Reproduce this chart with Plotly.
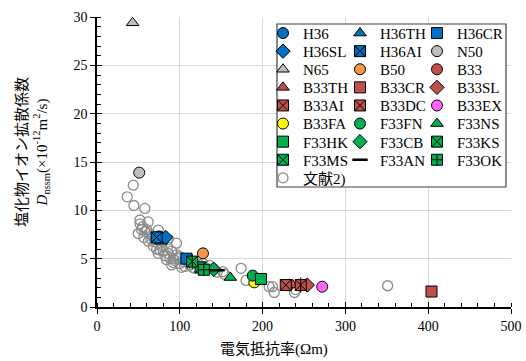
import plotly.graph_objects as go

# ---------------- data ----------------
lit_x = [36.5, 43.8, 44.6, 57.8, 51.8, 52, 61.8, 49.8, 60, 56.6, 66, 74, 70, 96, 76, 86, 74, 92, 90, 100,
         108, 112, 124, 136, 152, 154, 174, 180, 208, 214, 212, 238.5, 240, 351,
         55, 58, 63, 65, 68, 72, 78, 80, 82, 85, 88, 90, 94, 96, 98, 100, 104, 106, 110, 115, 118, 128,
         140, 145, 62, 80, 84, 92, 102, 54, 86]
lit_y = [11.4, 12.6, 10.5, 10.2, 9.0, 8.6, 8.8, 7.6, 8.0, 7.2, 7.4, 7.96, 6.75, 6.6, 5.9, 5.55, 5.55, 5.0, 4.35, 4.5,
         4.85, 4.35, 4.35, 4.3, 3.65, 3.4, 4.0, 2.75, 2.1, 1.5, 2.1, 1.5, 1.8, 2.2,
         8.3, 7.8, 7.6, 7.0, 6.3, 6.0, 6.3, 5.8, 5.3, 6.2, 5.1, 5.8, 4.8, 5.4, 5.0, 5.2, 4.7, 4.2, 4.6, 4.1, 4.0, 4.5,
         4.0, 3.6, 6.8, 6.8, 4.9, 4.6, 4.1, 8.0, 7.0]

series_names = ["H36", "H36TH", "H36CR", "H36SL", "H36AI", "N50",
                "N65", "B50", "B33", "B33TH", "B33CR", "B33SL",
                "B33AI", "B33DC", "B33EX", "B33FA", "F33FN", "F33NS",
                "F33HK", "F33CB", "F33KS", "F33MS", "F33AN", "F33OK"]
series_x = [75, 77, 108, 83, 72, 51,
            43, 128, 232, 236, 404, 254,
            228, 246, 272, 190, 188, 161,
            198, 141, 125, 115, 145, 129]
series_y = [7.3, 6.8, 5.0, 7.2, 7.2, 13.9,
            29.4, 5.55, 2.3, 2.3, 1.6, 2.27,
            2.27, 2.27, 2.1, 2.55, 3.25, 3.05,
            2.9, 3.9, 4.1, 4.7, 3.8, 3.85]
series_symbol = ["circle", "triangle-up", "square", "diamond", "square-x", "circle",
                 "triangle-up", "circle", "circle", "triangle-up", "square", "diamond",
                 "square-x", "square-x", "circle", "circle", "circle", "triangle-up",
                 "square", "diamond", "square-x", "square-x", "line-ew-open", "square-cross"]
BLUE, GRAY, ORANGE, RED, MAG, YEL, GRN = "#0070C0", "#BFBFBF", "#F79646", "#C0504D", "#FF66FF", "#FFFF00", "#00B050"
series_color = [BLUE, BLUE, BLUE, BLUE, BLUE, GRAY,
                GRAY, ORANGE, RED, RED, RED, RED,
                RED, RED, MAG, YEL, GRN, GRN,
                GRN, GRN, GRN, GRN, GRN, GRN]
asterisk_series = ["B33DC", "F33MS"]

# ---------------- layout constants ----------------
W, H = 526, 361
L, R, T, B = 97, 15, 17, 54
PW, PH = W - L - R, H - T - B
FONT = "Liberation Serif, Noto Sans CJK JP, serif"

def px_x(p):
    return (p - L) / PW

def px_y(p):
    return (H - B - p) / PH

fig = go.Figure()

row_of = {n: i // 3 for i, n in enumerate(series_names)}
col_of = {n: i % 3 for i, n in enumerate(series_names)}
ROWS = 9

def leg_key(r):
    return "legend" if r == 0 else f"legend{r+1}"

# literature data (behind)
fig.add_trace(go.Scatter(
    x=lit_x, y=lit_y, mode="markers", name="文献2)",
    marker=dict(symbol="circle-open", size=10, color="#8C8C8C", line=dict(width=1.3, color="#8C8C8C")),
    legend=leg_key(8), legendwidth=60))

for i, n in enumerate(series_names):
    sym = series_symbol[i]
    col = series_color[i]
    if sym == "line-ew-open":
        mk = dict(symbol=sym, size=11, color="black", line=dict(width=2.5, color="black"))
    else:
        mk = dict(symbol=sym, size=11, color=col, line=dict(width=1, color="black"))
    extra = {}
    if col_of[n] == 2:
        extra["legendwidth"] = 60
    fig.add_trace(go.Scatter(x=[series_x[i]], y=[series_y[i]], mode="markers", name=n,
                             marker=mk, legend=leg_key(row_of[n]), legendgroup=n, **extra))
    if n in asterisk_series:
        fig.add_trace(go.Scatter(x=[series_x[i]], y=[series_y[i]], mode="markers", name=n,
                                 marker=dict(symbol="line-ns-open", size=11, color="black",
                                             line=dict(width=1, color="black")),
                                 showlegend=False, legendgroup=n))

# dummy trace for overlay axes (inside part of major ticks)
fig.add_trace(go.Scatter(x=[None], y=[None], xaxis="x2", yaxis="y2", showlegend=False, hoverinfo="skip"))

layout_legends = {}
row_y0, row_dy = 33.3, 18.1
for r in range(ROWS):
    layout_legends[leg_key(r)] = dict(
        orientation="h", x=px_x(263), y=px_y(row_y0 + r * row_dy), xanchor="left", yanchor="middle",
        entrywidth=32, entrywidthmode="pixels", bgcolor="rgba(0,0,0,0)", borderwidth=0,
        font=dict(family=FONT, size=15, color="black"), itemwidth=30, tracegroupgap=0)

axis_common = dict(showline=True, linecolor="black", linewidth=1.5, ticks="outside", ticklen=5,
                   tickcolor="black", tickwidth=1, showgrid=True, gridcolor="#D9D9D9", gridwidth=1,
                   zeroline=False, automargin=False, tickfont=dict(family=FONT, size=14, color="black"))

fig.update_layout(
    width=W, height=H, margin=dict(l=L, r=R, t=T, b=B, autoexpand=False),
    paper_bgcolor="white", plot_bgcolor="white", showlegend=True,
    xaxis=dict(range=[0, 500], dtick=100, tick0=0,
               minor=dict(ticks="inside", ticklen=4, dtick=20, tickcolor="black", showgrid=False),
               **axis_common),
    yaxis=dict(range=[0, 30], dtick=5, tick0=0,
               minor=dict(ticks="inside", ticklen=4, dtick=1, tickcolor="black", showgrid=False),
               **axis_common),
    xaxis2=dict(range=[0, 500], dtick=100, overlaying="x", anchor="y2", ticks="inside", ticklen=5,
                tickcolor="black", showticklabels=False, showgrid=False, showline=False, zeroline=False),
    yaxis2=dict(range=[0, 30], dtick=5, overlaying="y", anchor="x2", ticks="inside", ticklen=5,
                tickcolor="black", showticklabels=False, showgrid=False, showline=False, zeroline=False),
    **layout_legends,
)

# legend box
fig.add_shape(type="rect", xref="paper", yref="paper",
              x0=px_x(277), x1=px_x(506), y0=px_y(187), y1=px_y(24),
              line=dict(color="#404040", width=1.2), fillcolor="white", layer="above")

# axis titles
fig.add_annotation(xref="paper", yref="paper", x=px_x(274), y=px_y(349), text="電気抵抗率(Ωm)",
                   showarrow=False, xanchor="center", yanchor="middle",
                   font=dict(family=FONT, size=15, color="black"))
fig.add_annotation(xref="paper", yref="paper", x=px_x(33), y=px_y(152),
                   text="塩化物イオン拡散係数<br><i>D</i><sub>nssm</sub>(×10<sup>-12</sup>m<sup>2</sup>/s)",
                   textangle=-90, showarrow=False, xanchor="center", yanchor="middle",
                   font=dict(family=FONT, size=15, color="black"))

fig.write_html("out.html", config={"displayModeBar": False},
               post_script="document.body.style.margin='0';document.body.style.padding='0';")
